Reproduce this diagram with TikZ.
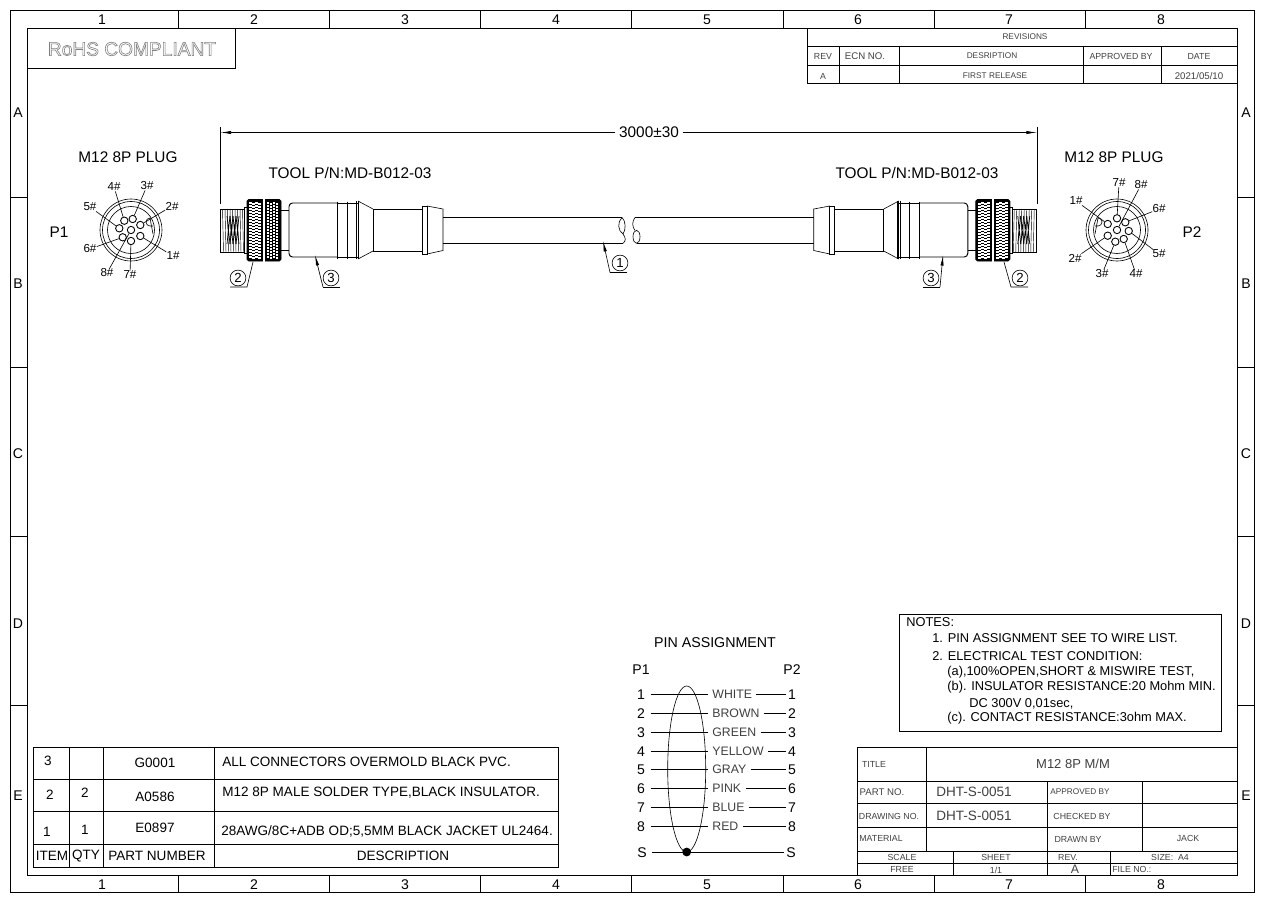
\documentclass[tikz,border=0pt]{standalone}
\usepackage{fontspec}
\setmainfont{Liberation Sans}
\usetikzlibrary{arrows.meta}
\definecolor{cadtext}{gray}{0.25}
\newcommand{\outlined}[1]{\special{pdf:code 1 Tr 0.35 w 0.5 G}#1\special{pdf:code 0 Tr 0 G}}
\tikzset{
  frameline/.style={line width=0.55pt},
  thinline/.style={line width=0.35pt},
  leadertip/.style={-{Latex[length=6pt,width=1.8pt]},thinline},
  zone/.style={inner sep=0pt,font=\fontsize{8}{8}\selectfont},
  label/.style={inner sep=0pt,font=\fontsize{8.75}{9}\selectfont},
  body/.style={inner sep=0pt,font=\fontsize{7.7}{8}\selectfont},
  notetext/.style={inner sep=0pt,anchor=west,font=\fontsize{7.3}{8}\selectfont},
  small/.style={inner sep=0pt,text=cadtext,font=\fontsize{5}{6}\selectfont},
  smallwide/.style={small,font=\fontsize{5.5}{6}\selectfont},
  smallnarrow/.style={small,font=\fontsize{4.7}{6}\selectfont},
  pinlabel/.style={inner sep=0pt,font=\fontsize{6.6}{7}\selectfont},
  pinhole/.style={circle,draw,inner sep=0pt,minimum size=4.2pt,line width=0.5pt},
  balloon/.style={circle,draw,inner sep=0pt,minimum size=9pt,thinline,font=\fontsize{7.5}{8}\selectfont},
  wirenum/.style={inner ysep=0pt,inner xsep=3pt,text height=5.8pt,text depth=0pt,font=\fontsize{8}{8}\selectfont},
  wirenumr/.style={wirenum,inner xsep=1pt},
  wirecolor/.style={inner ysep=0pt,inner xsep=2.3pt,anchor=west,text height=5.2pt,text depth=0pt,text=cadtext,font=\fontsize{7}{8}\selectfont}
}
\newcommand{\plugbody}{
  \draw[thinline] (244,209) -- (220,209) -- (220,252) -- (244,252);
  \foreach \t in {222.5,225,...,242.5} \draw[line width=0.25pt] (\t,209) -- (\t+1,252);
  \foreach \t in {227,230,...,236} \draw[line width=0.4pt] (\t,216) -- (\t+3,244) (\t+3,216) -- (\t,244);
  \draw[thinline] (244,207) rectangle (248,253);
  \draw[frameline,fill=black,rounded corners=1pt] (247,199.5) rectangle (281,261);
  \foreach \t/\o in {249.2/0,252.2/1.5,255.2/0,258.2/1.5,266.7/0,269.7/1.5,272.7/0,275.7/1.5} \foreach \u in {201.5,204.5,...,256} \fill[white] (\t,\u+\o) rectangle +(2.6,2.3);
  \fill[white] (263,199) rectangle (265,262);
  \draw[frameline] (281,210) -- (289,210) (281,250) -- (289,250);
  \draw[frameline,rounded corners=2pt] (337,203) -- (289,203) -- (289,257) -- (337,257);
  \draw[frameline,rounded corners=1pt] (337,201.5) -- (337,258.5) (347,201.5) -- (347,258.5) (356,201) -- (356,259);
  \draw[frameline] (337,203) -- (358,203) (337,257) -- (358,257);
  \draw[line width=1.1pt] (358.5,201) -- (358.5,259);
  \draw[thinline] (358,201) -- (373,209) (358,259) -- (373,251);
  \draw[frameline] (373,209) -- (373,251);
  \draw[frameline] (373,209) -- (422,209) (373,251) -- (422,251);
  \draw[frameline] (422,206) rectangle (427,254);
  \draw[thinline] (427,206) -- (443,209) -- (443,250.5) -- (427,254);
}
\begin{document}
\begin{tikzpicture}[x=0.02cm,y=-0.02cm]
\useasboundingbox (0,0) rectangle (1263,899);
\draw[frameline] (10,10) rectangle (1254,892);
\draw[frameline] (27,28) rectangle (1237,875);
\foreach \c in {178,329,480,631,783,934,1085} \draw[frameline] (\c,10) -- (\c,28) (\c,875) -- (\c,892);
\foreach \r in {197,367,536,705} \draw[frameline] (10,\r) -- (27,\r) (1237,\r) -- (1254,\r);
\foreach \n/\c in {1/102,2/254,3/405,4/556,5/707,6/858,7/1009,8/1161} {
  \node[zone] (ztop\n) at (\c,19.7) {\n};
  \node[zone] (zbot\n) at (\c,884.7) {\n};
}
\foreach \n/\r in {A/113,B/284,C/454,D/624,E/796} {
  \node[zone] (zleft\n) at (18,\r) {\n};
  \node[zone] (zright\n) at (1246,\r) {\n};
}
\draw[frameline] (27,68) -- (235,68) -- (235,28);
\node[inner sep=0pt,font=\fontsize{10.9}{11}\selectfont] (rohs) at (132,49) {\outlined{RoHS COMPLIANT}};
\draw[frameline] (807,83) -- (807,28) (807,46) -- (1237,46) (807,65) -- (1237,65) (807,83) -- (1237,83);
\foreach \c in {839,899,1083,1161} \draw[frameline] (\c,46) -- (\c,83);
\node[smallnarrow] (revhead) at (1025,37) {REVISIONS};
\node[small] (revrev) at (823,56) {REV};
\node[smallwide] (revecn) at (865,56) {ECN NO.};
\node[smallnarrow] (revdes) at (992,56) {DESRIPTION};
\node[small] (revapp) at (1121,56) {APPROVED BY};
\node[small] (revdate) at (1199,56) {DATE};
\node[small] (reva) at (823,76) {A};
\node[smallnarrow] (revfirst) at (995,76) {FIRST RELEASE};
\node[smallwide] (revd) at (1199,76) {2021/05/10};
\node[label,inner xsep=2pt] (dimtext) at (649,132.5) {3000±30};
\coordinate (diml) at (220.5,132.5);
\coordinate (dimr) at (1037,132.5);
\draw[leadertip] (dimtext) -- (diml);
\draw[leadertip] (dimtext) -- (dimr);
\draw[thinline] (220,127) -- (220,204) (1037,127) -- (1037,204);
\node[label] (plugl) at (128,157) {M12 8P PLUG};
\node[label] (plugr) at (1114,157) {M12 8P PLUG};
\node[label] (tooll) at (350,173) {TOOL P/N:MD-B012-03};
\node[label] (toolr) at (917,173) {TOOL P/N:MD-B012-03};
\node[label] (pone) at (59,232) {P1};
\node[label] (ptwo) at (1192,232) {P2};
\foreach \rr in {31,28.5,23.5} \draw[thinline] (131,230) circle (\rr);
\draw[thinline] (153,226) -- (150,226) arc (90:270:4) -- (153,234);
\foreach \n/\px/\py/\lx/\ly in {1/140.3/236/173/256,2/140.3/225/172/206,3/132.7/219/147/186,4/124.3/220.7/114/187,5/119.3/228.3/90/207,6/122.7/237.3/90/249,7/131/241/130/275,8/131/230/107/273} {
  \node[pinlabel] (la\n) at (\lx,\ly) {\n\#};
  \node[pinhole] (pa\n) at (\px,\py) {};
  \draw[thinline] (la\n) -- (pa\n);
}
\foreach \rr in {31,28.5,23.5} \draw[thinline] (1117,230) circle (\rr);
\draw[thinline] (1095,226) -- (1098,226) arc (90:-90:4) -- (1095,234);
\foreach \n/\px/\py/\lx/\ly in {1/1107.7/224/1076/201,2/1107.7/235.7/1075/258,3/1115.3/241.7/1102/274,4/1123.7/239/1136/274,5/1128.7/231/1159/254,6/1125.3/222.3/1159/209,7/1117/218.3/1119/183,8/1117/230/1141/185} {
  \node[pinlabel] (lb\n) at (\lx,\ly) {\n\#};
  \node[pinhole] (pb\n) at (\px,\py) {};
  \draw[thinline] (lb\n) -- (pb\n);
}
\plugbody
\begin{scope}[xshift=25.14cm,xscale=-1]
\plugbody
\end{scope}
\draw[frameline] (443,217.5) -- (622,217.5) (443,243.3) -- (623,243.3);
\draw[frameline] (635,217.5) -- (814,217.5) (637,243.3) -- (814,243.3);
\draw[thinline] (622,217.5) .. controls (617,222) and (618,231) .. (623,234) .. controls (626,238) and (626,241) .. (623,243.3);
\draw[thinline] (622,217.5) .. controls (626,221) and (626,230) .. (623,234);
\draw[thinline] (635,217.5) .. controls (632,221) and (632,227) .. (635,230.5);
\draw[thinline] (636.5,236.8) ellipse (3.5 and 6.5);
\node[balloon] (itemone) at (620,263) {1};
\coordinate (oneA) at (610,272.5);
\coordinate (oneB) at (627,272.5);
\coordinate (oneT) at (603,241);
\draw[thinline] (oneB) -- (oneA);
\draw[leadertip] (oneA) -- (oneT);
\node[balloon] (itemtwol) at (238,278) {2};
\coordinate (twolA) at (247,287);
\coordinate (twolB) at (230,287);
\coordinate (twolT) at (253,262);
\draw[thinline] (twolB) -- (twolA) -- (twolT);
\node[balloon] (itemthreel) at (331,278) {3};
\coordinate (threelA) at (323,287);
\coordinate (threelB) at (340,287);
\coordinate (threelT) at (315,255);
\draw[thinline] (threelB) -- (threelA);
\draw[leadertip] (threelA) -- (threelT);
\node[balloon] (itemthreer) at (931,278) {3};
\coordinate (threerA) at (940,287);
\coordinate (threerB) at (923,287);
\coordinate (threerT) at (943,255);
\draw[thinline] (threerB) -- (threerA);
\draw[leadertip] (threerA) -- (threerT);
\node[balloon] (itemtwor) at (1020,278) {2};
\coordinate (tworA) at (1011,287);
\coordinate (tworB) at (1028,287);
\coordinate (tworT) at (1004,262);
\draw[thinline] (tworB) -- (tworA) -- (tworT);
\node[inner sep=0pt,font=\fontsize{8.1}{9}\selectfont] (pinhead) at (715,643) {PIN ASSIGNMENT};
\node[wirenum] (pinp) at (641,669) {P1};
\node[wirenum] (pinq) at (792,669) {P2};
\foreach \n/\w/\y in {1/WHITE/694,2/BROWN/713,3/GREEN/732,4/YELLOW/751,5/GRAY/769,6/PINK/788,7/BLUE/807,8/RED/826} {
  \node[wirenum] (wl\n) at (641,\y) {\n};
  \node[wirecolor] (wc\n) at (708,\y) {\w};
  \node[wirenumr] (wr\n) at (792,\y) {\n};
  \draw[thinline] (wl\n.east) -- (wc\n.west);
  \draw[thinline] (wc\n.east) -- (wr\n.west);
}
\node[wirenum] (sl) at (642,852) {S};
\node[wirenumr] (sr) at (791,852) {S};
\draw[thinline] (sl.east) -- (sr.west);
\draw[thinline] (686.7,769) ellipse (19 and 83);
\node[circle,fill=black,inner sep=0pt,minimum size=5pt] (drain) at (686.7,852) {};
\draw[frameline] (899,614) rectangle (1221,731);
\node[notetext] (note0) at (906,622.5) {NOTES:};
\node[notetext] (note1) at (932,638.5) {1. PIN ASSIGNMENT SEE TO WIRE LIST.};
\node[notetext] (note2) at (932,656.5) {2. ELECTRICAL TEST CONDITION:};
\node[notetext] (note3) at (947,672.5) {(a),100\%OPEN,SHORT \& MISWIRE TEST,};
\node[notetext] (note4) at (947,687.5) {(b). INSULATOR RESISTANCE:20 Mohm MIN.};
\node[notetext] (note5) at (969,703.5) {DC 300V 0,01sec,};
\node[notetext] (note6) at (947,718.5) {(c). CONTACT RESISTANCE:3ohm MAX.};
\draw[frameline] (33,747) rectangle (558,867);
\foreach \r in {779,811,844} \draw[frameline] (33,\r) -- (558,\r);
\foreach \c in {69,103,214} \draw[frameline] (\c,747) -- (\c,867);
\node[body] (itemc) at (48,761) {3};
\node[body] (partc) at (155,763) {G0001};
\node[body,anchor=west] (descc) at (222,762) {ALL CONNECTORS OVERMOLD BLACK PVC.};
\node[body] (itemb) at (50,795) {2};
\node[body] (qtyb) at (85,793) {2};
\node[body] (partb) at (155,797) {A0586};
\node[body,anchor=west] (descb) at (222,793) {M12 8P MALE SOLDER TYPE,BLACK INSULATOR.};
\node[body] (itema) at (47,832) {1};
\node[body] (qtya) at (85,830) {1};
\node[body] (parta) at (155,828) {E0897};
\node[body,anchor=west] (desca) at (221,831) {28AWG/8C+ADB OD;5,5MM BLACK JACKET UL2464.};
\node[body] (headi) at (52,856) {ITEM};
\node[body] (headq) at (86,856) {QTY};
\node[body] (headp) at (157,856) {PART NUMBER};
\node[body] (headd) at (403,856) {DESCRIPTION};
\draw[frameline] (857,875) -- (857,747) -- (1237,747) (857,781) -- (1237,781) (857,803) -- (1237,803) (857,827) -- (1237,827) (857,851) -- (1237,851) (857,863) -- (1237,863);
\draw[frameline] (926,747) -- (926,851) (1047,781) -- (1047,875) (1142,781) -- (1142,851) (953,851) -- (953,875) (1110,851) -- (1110,875);
\node[small] (ttl) at (874,764) {TITLE};
\node[inner sep=0pt,text=cadtext,font=\fontsize{7.4}{8}\selectfont] (ttlv) at (1073,764) {M12 8P M/M};
\node[smallwide] (partlbl) at (882,792) {PART NO.};
\node[body,text=cadtext] (partv) at (974,792) {DHT-S-0051};
\node[smallnarrow] (apprlbl) at (1080,792) {APPROVED BY};
\node[small] (drawlbl) at (889,816) {DRAWING NO.};
\node[body,text=cadtext] (drawv) at (974,816) {DHT-S-0051};
\node[small] (chklbl) at (1082,816) {CHECKED BY};
\node[small] (matlbl) at (881,838) {MATERIAL};
\node[small] (drwlbl) at (1078,839) {DRAWN BY};
\node[small] (jack) at (1188,838) {JACK};
\node[small] (scl) at (902,857) {SCALE};
\node[small] (sht) at (996,857) {SHEET};
\node[small] (revl) at (1068,857) {REV.};
\node[small] (siz) at (1170,857) {SIZE:~~A4};
\node[small] (free) at (902,869) {FREE};
\node[small] (shtv) at (996,870) {1/1};
\node[small] (revv) at (1075,869) {\fontsize{7}{7}\selectfont A};
\node[small,anchor=west] (fileno) at (1112,869) {FILE NO.:};
\end{tikzpicture}
\end{document}
